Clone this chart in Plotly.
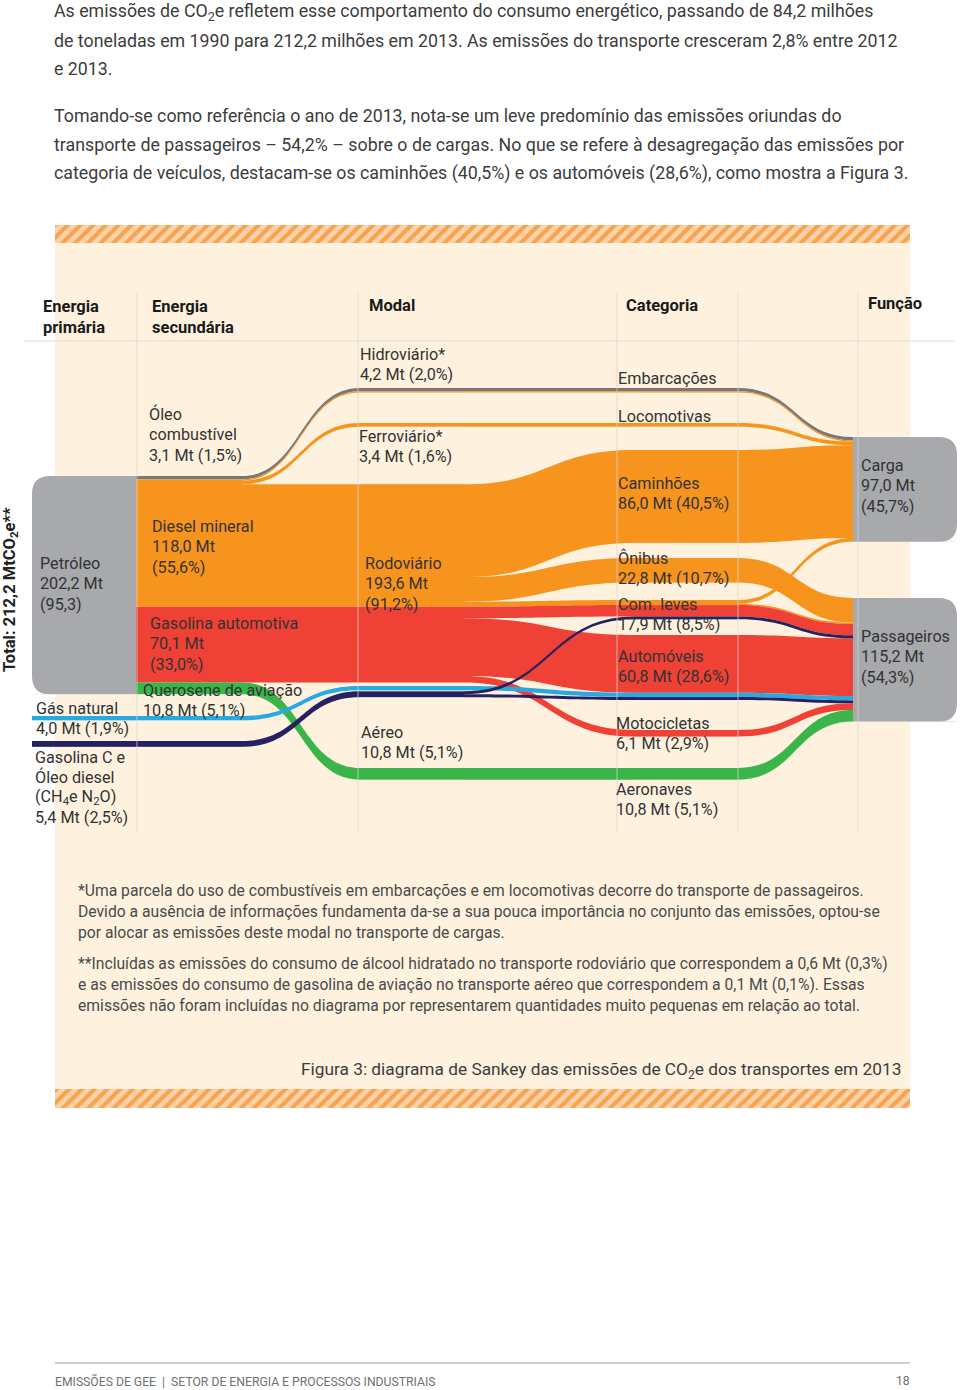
import plotly.graph_objects as go

# ---------------- DATA: CO2e emissions of transport, 2013 (Mt) ----------------
TOTAL = 212.2

primary_labels = ["Petróleo", "Gás natural", "Gasolina C e Óleo diesel (CH4 e N2O)"]
primary_values = [202.2, 4.0, 5.4]
primary_pcts = [95.3, 1.9, 2.5]

secondary_labels = ["Óleo combustível", "Diesel mineral", "Gasolina automotiva", "Querosene de aviação"]
secondary_values = [3.1, 118.0, 70.1, 10.8]
secondary_pcts = [1.5, 55.6, 33.0, 5.1]

modal_labels = ["Hidroviário*", "Ferroviário*", "Rodoviário", "Aéreo"]
modal_values = [4.2, 3.4, 193.6, 10.8]
modal_pcts = [2.0, 1.6, 91.2, 5.1]

category_labels = ["Embarcações", "Locomotivas", "Caminhões", "Ônibus",
                   "Com. leves", "Automóveis", "Motocicletas", "Aeronaves"]
category_values = [4.2, 3.4, 86.0, 22.8, 17.9, 60.8, 6.1, 10.8]
category_pcts = [2.0, 1.6, 40.5, 10.7, 8.5, 28.6, 2.9, 5.1]

function_labels = ["Carga", "Passageiros"]
function_values = [97.0, 115.2]
function_pcts = [45.7, 54.3]

# flow streams (one per fuel path through the five columns), Mt
P, GN, CH = primary_labels
OC, DM, GA, QA = secondary_labels
HI, FE, RO, AE = modal_labels
EM, LO, CA, ON, CL, AU, MO, AN = category_labels
CG, PA = function_labels

stream_primary = [P, P, P, P, P, P, P, P, P, P, P, GN, CH, CH]
stream_fuel = [OC, DM, DM, DM, DM, DM, DM, GA, GA, GA, QA, GN, CH, CH]
stream_modal = [HI, HI, FE, RO, RO, RO, RO, RO, RO, RO, AE, RO, RO, RO]
stream_category = [EM, EM, LO, CA, ON, CL, CL, CL, AU, MO, AN, AU, CL, AU]
stream_function = [CG, CG, CG, CG, PA, CG, PA, PA, PA, PA, PA, PA, PA, PA]
stream_value = [3.1, 1.1, 3.4, 86.0, 22.8, 3.4, 1.3, 10.5, 53.5, 6.1, 10.8, 4.0, 2.7, 2.7]

# ---------------- STYLE / LAYOUT CONFIG ----------------
PAGE_W, PAGE_H = 960, 1390
FUEL_COLORS = {OC: "#77787B", DM: "#F7941D", GA: "#EF4136", QA: "#39B54A",
               GN: "#27AAE1", CH: "#262262"}
FUEL_ORDER = [OC, DM, GA, QA, GN, CH]
BOX_GRAY = "#A7A9AC"
CREAM = "#FEF2DF"
KY = 1.08                    # px per Mt
DOM_TOP, DOM_BOT = 360, 820  # sankey domain (px from top)
NODE_W = 104
COL_X0 = [32, 138, 360, 634, 853]
CORNER_R = 18

GROUP_TOP = {
    0: {P: 476, GN: 716, CH: 741},
    1: {P: 476, GN: 716, CH: 741},
    2: {HI: 388, FE: 423, RO: None, AE: 768},
    3: {EM: 388, LO: 423, CA: 450, ON: 558, CL: 600, AU: 635, MO: 730, AN: 768},
    4: {CG: 437, PA: 598},
}
SUB_GAP = {(2, RO, GN): 3.5, (2, RO, CH): 1.0}

LABEL_FONT = "Roboto"
TEXT_FONT = "Roboto"

# ---------------- BUILD SANKEY NODES / LINKS ----------------
streams = list(zip(stream_primary, stream_fuel, stream_modal, stream_category,
                   stream_function, stream_value))


def node_key(c, s):
    return [s[0], s[1], (s[2], s[1]), (s[3], s[1]), s[4]][c]


nodes, node_val, node_group, node_fuel = [], {}, {}, {}
for s in streams:
    for c in range(5):
        k = (c, node_key(c, s))
        if k not in node_val:
            nodes.append(k)
            node_val[k] = 0.0
            node_group[k] = [s[0], s[0], s[2], s[3], s[4]][c]
            node_fuel[k] = s[1]
        node_val[k] += s[5]
idx = {k: i for i, k in enumerate(nodes)}

links = {}
for s in streams:
    for c in range(4):
        lk = (idx[(c, node_key(c, s))], idx[(c + 1, node_key(c + 1, s))], s[1])
        links[lk] = links.get(lk, 0.0) + s[5]

# Rodoviário top so that its flows stay level with the Petróleo outflow
pre_rodo = sum(s[5] for s in streams if s[0] == P and s[2] != RO
               and FUEL_ORDER.index(s[1]) <= FUEL_ORDER.index(DM))
GROUP_TOP[2][RO] = GROUP_TOP[1][P] + KY * pre_rodo

# stack sub-nodes inside each group
node_top = {}
for c in range(5):
    for g, top in GROUP_TOP[c].items():
        members = [k for k in nodes if k[0] == c and node_group[k] == g]
        members.sort(key=lambda k: FUEL_ORDER.index(node_fuel[k]))
        y = top
        for k in members:
            y += SUB_GAP.get((c, g, node_fuel[k]), 0.0)
            node_top[k] = y
            y += node_val[k] * KY

H = DOM_BOT - DOM_TOP
col_counts = [sum(1 for k in nodes if k[0] == c) for c in range(5)]
col_sum = sum(node_val[k] for k in nodes if k[0] == 3)
pad = (H - KY * col_sum) / (max(col_counts) - 1)

nx, ny, ncol = [], [], []
for k in nodes:
    c = k[0]
    nx.append((COL_X0[c] + NODE_W / 2) / PAGE_W)
    ny.append((node_top[k] + node_val[k] * KY / 2 - DOM_TOP) / H)
    ncol.append(BOX_GRAY if (c == 4 or k == (0, P)) else FUEL_COLORS[node_fuel[k]])

ls = [a for (a, b, f) in links]
lt = [b for (a, b, f) in links]
lv = list(links.values())
lc = [FUEL_COLORS[f] for (a, b, f) in links]

fig = go.Figure()

# decorative hatched bands of the figure panel
fig.add_trace(go.Bar(
    x=[855, 855], y=[234, 1098.5], base=[55, 55], width=[18, 19], orientation="h",
    marker=dict(color="#FCD3A8", line_width=0,
                pattern=dict(shape="/", fgcolor="#F6A24F", bgcolor="#FCD3A8",
                             size=9, solidity=0.45, fillmode="replace")),
    hoverinfo="skip", showlegend=False))

fig.add_trace(go.Sankey(
    domain=dict(x=[0, 1], y=[1 - DOM_BOT / PAGE_H, 1 - DOM_TOP / PAGE_H]),
    arrangement="fixed",
    node=dict(pad=pad, thickness=NODE_W, x=nx, y=ny, color=ncol,
              line=dict(width=0), hoverinfo="none"),
    link=dict(source=ls, target=lt, value=lv, color=lc, hoverinfo="none",
              line=dict(width=0)),
))

# ---------------- SHAPES ----------------
shapes = [dict(type="rect", x0=55, x1=910, y0=243, y1=1089, fillcolor=CREAM,
               line_width=0, layer="below", xref="x", yref="y"),
          dict(type="line", x0=24, x1=955, y0=341, y1=341,
               line=dict(color="#DCDCDC", width=1), xref="x", yref="y", layer="below"),
          dict(type="line", x0=55, x1=910, y0=1363, y1=1363,
               line=dict(color="#A0A0A0", width=1), xref="x", yref="y")]
for vx in [137, 358, 617, 738, 858]:
    shapes.append(dict(type="line", x0=vx, x1=vx, y0=292, y1=832, xref="x", yref="y",
                       line=dict(color="rgba(215,212,208,0.75)", width=1), layer="above"))


# rounded corners of the grey boxes (masks derived from the node geometry)
def corner_mask(cx, cy, dx, dy, r, color):
    return dict(type="path", xref="x", yref="y", fillcolor=color, line_width=0, layer="above",
                path=f"M {cx},{cy} L {cx + dx * r},{cy} Q {cx},{cy} {cx},{cy + dy * r} Z")


for k in [(0, P), (4, CG), (4, PA)]:
    c = k[0]
    top = node_top[k]
    bot = top + node_val[k] * KY
    if c == 0:
        xe, sx = COL_X0[0], 1
    else:
        xe, sx = COL_X0[4] + NODE_W, -1
    shapes.append(corner_mask(xe, top, sx, 1, CORNER_R, "white"))
    shapes.append(corner_mask(xe, bot, sx, -1, CORNER_R, "white"))
fig.update_layout(shapes=shapes)


# ---------------- TEXT ----------------
def fmt(v):
    return f"{v:.1f}".replace(".", ",")


def vl(v, p):
    return f"{fmt(v)} Mt ({fmt(p)}%)"


def add_text(x, y, lines, size=16, color="#333333", bold=False, family=LABEL_FONT,
             dy=None, xanchor="left"):
    if isinstance(lines, str):
        lines = [lines]
    dy = dy or size * 1.28
    for i, ln in enumerate(lines):
        fig.add_annotation(x=x, y=y + i * dy, xref="x", yref="y",
                           text=f"<b>{ln}</b>" if bold else ln, showarrow=False,
                           xanchor=xanchor, yanchor="middle", align="left",
                           font=dict(family=family, size=size, color=color))


para = "#3C3C3C"
p1 = ["As emissões de CO<sub>2</sub>e refletem esse comportamento do consumo energético, passando de 84,2 milhões",
      "de toneladas em 1990 para 212,2 milhões em 2013. As emissões do transporte cresceram 2,8% entre 2012",
      "e 2013."]
p2 = ["Tomando-se como referência o ano de 2013, nota-se um leve predomínio das emissões oriundas do",
      "transporte de passageiros – 54,2% – sobre o de cargas. No que se refere à desagregação das emissões por",
      "categoria de veículos, destacam-se os caminhões (40,5%) e os automóveis (28,6%), como mostra a Figura 3."]
add_text(52, 12, p1, size=17.8, color=para, family=TEXT_FONT, dy=28)
add_text(52, 115, p2, size=17.8, color=para, family=TEXT_FONT, dy=29)

# column headers
hdr = "#1A1A1A"
add_text(41, 306, ["Energia", "primária"], size=16.5, color=hdr, bold=True, dy=21)
add_text(150, 306, ["Energia", "secundária"], size=16.5, color=hdr, bold=True, dy=21)
add_text(367, 305, "Modal", size=16.5, color=hdr, bold=True)
add_text(624, 305, "Categoria", size=16.5, color=hdr, bold=True)
add_text(866, 303, "Função", size=16.5, color=hdr, bold=True)

LS = 16.2
DY = 20.5
# primary
add_text(38, 563, [primary_labels[0], f"{fmt(primary_values[0])} Mt", f"({fmt(primary_pcts[0])})"], LS, dy=DY)
add_text(34, 708, [primary_labels[1], vl(primary_values[1], primary_pcts[1])], LS, dy=DY)
add_text(33, 757, ["Gasolina C e", "Óleo diesel", "(CH<sub>4</sub>e N<sub>2</sub>O)",
                   vl(primary_values[2], primary_pcts[2])], LS, dy=20.3)
# secondary
add_text(147, 414, ["Óleo", "combustível", vl(secondary_values[0], secondary_pcts[0])], LS, dy=DY)
add_text(150, 526, [secondary_labels[1], f"{fmt(secondary_values[1])} Mt", f"({fmt(secondary_pcts[1])}%)"], LS, dy=DY)
add_text(148, 623, [secondary_labels[2], f"{fmt(secondary_values[2])} Mt", f"({fmt(secondary_pcts[2])}%)"], LS, dy=DY)
add_text(141, 690, [secondary_labels[3], vl(secondary_values[3], secondary_pcts[3])], LS, dy=DY)
# modal
add_text(358, 354, [modal_labels[0], vl(modal_values[0], modal_pcts[0])], LS, dy=DY)
add_text(357, 436, [modal_labels[1], vl(modal_values[1], modal_pcts[1])], LS, dy=DY)
add_text(363, 563, [modal_labels[2], f"{fmt(modal_values[2])} Mt", f"({fmt(modal_pcts[2])}%)"], LS, dy=DY)
add_text(359, 732, [modal_labels[3], vl(modal_values[3], modal_pcts[3])], LS, dy=DY)
# categories
cat_y = [378, 416, 483, 558, 604, 656, 723, 789]
for i, lab in enumerate(category_labels):
    xx = 616 if i < 6 else 614
    if i < 2:
        add_text(xx, cat_y[i], lab, LS)
    else:
        add_text(xx, cat_y[i], [lab, vl(category_values[i], category_pcts[i])], LS, dy=DY)
# function
add_text(859, 465, [function_labels[0], f"{fmt(function_values[0])} Mt", f"({fmt(function_pcts[0])}%)"], LS, dy=DY)
add_text(859, 636, [function_labels[1], f"{fmt(function_values[1])} Mt", f"({fmt(function_pcts[1])}%)"], LS, dy=DY)

# vertical total
fig.add_annotation(x=10, y=590, xref="x", yref="y", showarrow=False, textangle=-90,
                   text=f"<b>Total: {fmt(TOTAL)} MtCO<sub>2</sub>e**</b>",
                   font=dict(family=LABEL_FONT, size=16.5, color="#222222"))

# footnotes
fn = "#4A4A4A"
add_text(76, 890, ["*Uma parcela do uso de combustíveis em embarcações e em locomotivas decorre do transporte de passageiros.",
                   "Devido a ausência de informações fundamenta da-se a sua pouca importância no conjunto das emissões, optou-se",
                   "por alocar as emissões deste modal no transporte de cargas."],
         size=15.7, color=fn, family=TEXT_FONT, dy=21)
add_text(76, 963, ["**Incluídas as emissões do consumo de álcool hidratado no transporte rodoviário que correspondem a 0,6 Mt (0,3%)",
                   "e as emissões do consumo de gasolina de aviação no transporte aéreo que correspondem a 0,1 Mt (0,1%). Essas",
                   "emissões não foram incluídas no diagrama por representarem quantidades muito pequenas em relação ao total."],
         size=15.7, color=fn, family=TEXT_FONT, dy=21)
add_text(903, 1070, "Figura 3: diagrama de Sankey das emissões de CO<sub>2</sub>e dos transportes em 2013",
         size=17.3, color="#3C3C3C", family=TEXT_FONT, xanchor="right")

# footer
add_text(53, 1381, "EMISSÕES DE GEE  |  SETOR DE ENERGIA E PROCESSOS INDUSTRIAIS",
         size=12.2, color="#707070", family=TEXT_FONT)
add_text(912, 1381, "18", size=12.2, color="#707070", family=TEXT_FONT, xanchor="right")

fig.update_layout(
    width=PAGE_W, height=PAGE_H, margin=dict(l=0, r=0, t=0, b=0),
    paper_bgcolor="white", plot_bgcolor="rgba(0,0,0,0)",
    xaxis=dict(range=[0, PAGE_W], visible=False, fixedrange=True, domain=[0, 1]),
    yaxis=dict(range=[PAGE_H, 0], visible=False, fixedrange=True, domain=[0, 1]),
    showlegend=False, hovermode=False, bargap=0,
)

fig.write_html("out.html", config={"displayModeBar": False},
               post_script="document.body.style.margin='0';")
